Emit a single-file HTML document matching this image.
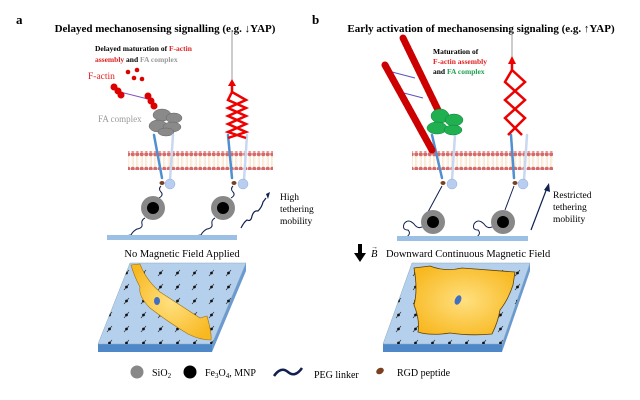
<!DOCTYPE html>
<html><head><meta charset="utf-8"><style>
html,body{margin:0;padding:0;background:#fff;}
svg{display:block;font-family:"Liberation Serif",serif;}
</style></head><body>
<svg width="640" height="400" viewBox="0 0 640 400" xmlns="http://www.w3.org/2000/svg">
<defs>
<pattern id="mem" x="0" y="0" width="4.5" height="19" patternUnits="userSpaceOnUse">
<line x1="1.6" y1="4" x2="1.6" y2="15" stroke="#f4d4a8" stroke-width="0.5"/>
<line x1="2.9" y1="4" x2="2.9" y2="15" stroke="#f4d4a8" stroke-width="0.5"/>
<circle cx="2.25" cy="2.3" r="2" fill="#d46a6a"/>
<circle cx="2.25" cy="16.7" r="2" fill="#d46a6a"/>
</pattern>
<pattern id="dots" x="0" y="0" width="17" height="14" patternUnits="userSpaceOnUse">
<line x1="5" y1="10" x2="10" y2="4" stroke="#333" stroke-width="0.7"/><circle cx="7.5" cy="7" r="1.4" fill="#111"/>
</pattern>
<radialGradient id="cell" cx="0.5" cy="0.5" r="0.6"><stop offset="0" stop-color="#ffe080"/><stop offset="1" stop-color="#f8b820"/></radialGradient>
</defs>

<!-- Panel a -->
<text x="16" y="24" font-size="13" font-weight="bold">a</text>
<text x="165" y="32" font-size="11" font-weight="bold" text-anchor="middle">Delayed mechanosensing signalling (e.g. ↓YAP)</text>
<text x="95" y="51" font-size="7.5" font-weight="bold">Delayed maturation of <tspan fill="#e02020">F-actin</tspan></text>
<text x="95" y="62" font-size="7.5" font-weight="bold"><tspan fill="#e02020">assembly</tspan> and <tspan fill="#999">FA complex</tspan></text>
<text x="88" y="79" font-size="9.5" fill="#e02020">F-actin</text>
<circle cx="128" cy="72" r="2.3" fill="#d00"/><circle cx="137" cy="70" r="2.3" fill="#d00"/>
<circle cx="134" cy="78" r="2.3" fill="#d00"/><circle cx="142" cy="79" r="2.3" fill="#d00"/>
<line x1="120" y1="92" x2="148" y2="99" stroke="#8050c0" stroke-width="1"/>
<g fill="#d00"><circle cx="114" cy="87" r="3.5"/><circle cx="118" cy="91" r="3.5"/><circle cx="121" cy="95" r="3.5"/>
<circle cx="148" cy="96" r="3.5"/><circle cx="151" cy="101" r="3.5"/><circle cx="154" cy="106" r="3.5"/></g>
<g fill="#8a8a8a" stroke="#666" stroke-width="0.5">
<ellipse cx="162" cy="115" rx="9" ry="6"/><ellipse cx="174" cy="118" rx="8" ry="5"/><ellipse cx="158" cy="126" rx="9" ry="6"/><ellipse cx="172" cy="127" rx="9" ry="5"/><ellipse cx="166" cy="132" rx="8" ry="4"/></g>
<text x="98" y="122" font-size="9" fill="#999">FA complex</text>
<rect x="128" y="151" width="145" height="19" fill="url(#mem)"/>
<rect x="412" y="151" width="141" height="19" fill="url(#mem)"/>
<!-- integrins -->
<g stroke-linecap="round">
<line x1="154" y1="135" x2="162" y2="178" stroke="#5090d0" stroke-width="2.5"/>
<line x1="173" y1="135" x2="170" y2="180" stroke="#c8d8f0" stroke-width="2.5"/>
<line x1="228" y1="135" x2="232" y2="178" stroke="#5090d0" stroke-width="2.5"/>
<line x1="247" y1="135" x2="244" y2="180" stroke="#c8d8f0" stroke-width="2.5"/>
<line x1="432" y1="135" x2="442" y2="178" stroke="#5090d0" stroke-width="2.5"/>
<line x1="455" y1="135" x2="452" y2="180" stroke="#c8d8f0" stroke-width="2.5"/>
<line x1="511" y1="135" x2="514" y2="178" stroke="#5090d0" stroke-width="2.5"/>
<line x1="527" y1="135" x2="524" y2="180" stroke="#c8d8f0" stroke-width="2.5"/>
</g>
<g fill="#b8cdf0" stroke="#90a8d8" stroke-width="0.5">
<circle cx="170" cy="184" r="5"/><circle cx="243" cy="184" r="5"/><circle cx="452" cy="184" r="5"/><circle cx="523" cy="184" r="5"/></g>
<g fill="#7a4020"><ellipse cx="162" cy="183" rx="2.5" ry="2"/><ellipse cx="234" cy="183" rx="2.5" ry="2"/><ellipse cx="443" cy="183" rx="2.5" ry="2"/><ellipse cx="515" cy="183" rx="2.5" ry="2"/></g>
<g fill="none" stroke="#102050" stroke-width="1">
<path d="M161 186 q-3 3 0 6 q3 3 -2 6"/>
<path d="M233 186 q-3 3 0 6 q3 3 -2 6"/>
<path d="M145 218 q-4 2 -3 6 q1 4 -5 5 q-4 2 -6 6 q-3 0 -6 2"/>
<path d="M215 218 q-4 2 -3 6 q1 4 -5 5 q-4 2 -6 6 q-3 0 -6 2"/>
</g>
<g><circle cx="153" cy="208" r="12" fill="#888"/><circle cx="153" cy="208" r="6" fill="#000"/>
<circle cx="223" cy="208" r="12" fill="#888"/><circle cx="223" cy="208" r="6" fill="#000"/></g>
<rect x="107" y="235" width="130" height="5" fill="#9cc0e4"/>
<line x1="232" y1="30" x2="232" y2="80" stroke="#999" stroke-width="1"/>
<polygon points="228,86 232,79 236,86" fill="#e00"/>
<polyline points="232,86 232,92 246,100 228,108 246,116 228,124 246,132 228,138" fill="none" stroke="#e00" stroke-width="2.5"/>
<polyline points="232,92 228,100 246,108 228,116 246,124 228,132 246,138" fill="none" stroke="#e00" stroke-width="2.5"/>
<path d="M241 228 q3 -6 6 -8 q4 2 5 -4 q2 -6 6 -5 q4 -4 5 -9 l3 -4" fill="none" stroke="#102050" stroke-width="1.2"/>
<polygon points="266,194 270,192 268,199" fill="#102050"/>
<text x="280" y="200" font-size="9.5">High</text>
<text x="280" y="212" font-size="9.5">tethering</text>
<text x="280" y="224" font-size="9.5">mobility</text>
<text x="182" y="257" font-size="10.5" text-anchor="middle">No Magnetic Field Applied</text>
<polygon points="98,344 212,344 212,352 98,352" fill="#4f88c8"/>
<polygon points="212,344 246,263 246,271 212,352" fill="#6a9ad0"/>
<polygon points="130,263 246,263 212,344 98,344" fill="#b5d0ec" stroke="#8ab" stroke-width="0.5"/>
<polygon points="130,263 246,263 212,344 98,344" fill="url(#dots)"/>
<path d="M131 265 L140 264 Q146 280 160 292 Q180 305 200 318 L207 316 Q212 334 211 340 Q200 340 188 334 Q168 322 150 308 Q138 296 140 287 Q134 276 131 265 Z" fill="url(#cell)" stroke="#a07010" stroke-width="0.6"/>
<ellipse cx="157" cy="301" rx="3" ry="4" fill="#4070c0"/>

<!-- Panel b -->
<text x="312" y="24" font-size="13" font-weight="bold">b</text>
<text x="481" y="32" font-size="11" font-weight="bold" text-anchor="middle">Early activation of mechanosensing signaling (e.g. ↑YAP)</text>
<text x="433" y="54" font-size="7.5" font-weight="bold">Maturation of</text>
<text x="433" y="64" font-size="7.5" font-weight="bold" fill="#e02020">F-actin assembly</text>
<text x="433" y="74" font-size="7.5" font-weight="bold">and <tspan fill="#20a050">FA complex</tspan></text>
<line x1="392" y1="72" x2="415" y2="78" stroke="#6050c0" stroke-width="1"/>
<line x1="400" y1="92" x2="423" y2="98" stroke="#6050c0" stroke-width="1"/>
<line x1="403" y1="38" x2="438" y2="110" stroke="#c00" stroke-width="7" stroke-dasharray="3.5 1.2" stroke-linecap="round"/>
<line x1="385" y1="65" x2="432" y2="150" stroke="#c00" stroke-width="7" stroke-dasharray="3.5 1.2" stroke-linecap="round"/>
<g fill="#20b050" stroke="#108040" stroke-width="0.5">
<ellipse cx="440" cy="116" rx="9" ry="7"/><ellipse cx="454" cy="120" rx="9" ry="6"/><ellipse cx="437" cy="128" rx="10" ry="6"/><ellipse cx="453" cy="130" rx="9" ry="5"/></g>
<line x1="512" y1="30" x2="512" y2="58" stroke="#999" stroke-width="1"/>
<polygon points="508,64 512,56 516,64" fill="#e00"/>
<polyline points="512,64 512,70 525,82 505,100 525,118 508,135" fill="none" stroke="#e00" stroke-width="2.5"/>
<polyline points="512,70 505,82 525,100 505,118 522,135" fill="none" stroke="#e00" stroke-width="2.5"/>
<g fill="none" stroke="#102050" stroke-width="1">
<path d="M442 186 L428 212"/><path d="M514 186 L505 210"/>
<path d="M424 226 q-6 4 -10 -2 q-6 -6 -10 0 q-2 6 4 6 q4 4 -3 8"/>
<path d="M494 226 q-6 4 -10 -2 q-6 -6 -10 0 q-2 6 4 6 q4 4 -3 8"/>
</g>
<g><circle cx="433" cy="222" r="12" fill="#888"/><circle cx="433" cy="222" r="6" fill="#000"/>
<circle cx="503" cy="222" r="12" fill="#888"/><circle cx="503" cy="222" r="6" fill="#000"/></g>
<rect x="397" y="236" width="131" height="5" fill="#9cc0e4"/>
<line x1="531" y1="230" x2="547" y2="188" stroke="#102050" stroke-width="1.2"/>
<polygon points="544,190 549,183 550,192" fill="#102050"/>
<text x="553" y="198" font-size="9.5">Restricted</text>
<text x="553" y="210" font-size="9.5">tethering</text>
<text x="553" y="222" font-size="9.5">mobility</text>
<rect x="358" y="244" width="4" height="10" fill="#000"/>
<polygon points="354,253 366,253 360,262" fill="#000"/>
<text x="371" y="257" font-size="10.5" font-style="italic">B</text>
<text x="371" y="249" font-size="7">→</text>
<text x="386" y="257" font-size="10.5">Downward Continuous Magnetic Field</text>
<polygon points="383,344 502,344 502,352 383,352" fill="#4f88c8"/>
<polygon points="502,344 530,263 530,271 502,352" fill="#6a9ad0"/>
<polygon points="412,263 530,263 502,344 383,344" fill="#b5d0ec" stroke="#8ab" stroke-width="0.5"/>
<polygon points="412,263 530,263 502,344 383,344" fill="url(#dots)"/>
<path d="M414 268 L430 266 Q445 272 462 268 Q490 270 515 272 L513 285 Q508 300 500 310 Q498 322 492 334 Q470 336 450 333 Q430 336 418 332 Q420 320 414 305 Q418 290 414 268 Z" fill="url(#cell)" stroke="#604000" stroke-width="0.8"/>
<ellipse cx="458" cy="300" rx="3" ry="5" fill="#4070c0" transform="rotate(25 458 300)"/>

<!-- Legend -->
<circle cx="137" cy="372" r="6.5" fill="#888"/>
<text x="152" y="376" font-size="10">SiO<tspan font-size="7" dy="2">2</tspan></text>
<circle cx="190" cy="372" r="6.5" fill="#000"/>
<text x="205" y="376" font-size="10">Fe<tspan font-size="7" dy="2">3</tspan><tspan dy="-2">O</tspan><tspan font-size="7" dy="2">4</tspan><tspan dy="-2">, MNP</tspan></text>
<path d="M274 376 q7 -10 14 -4 q7 6 14 -4" fill="none" stroke="#102050" stroke-width="2.5"/>
<text x="314" y="378" font-size="10">PEG linker</text>
<ellipse cx="380" cy="371" rx="4" ry="3" fill="#7a4020" transform="rotate(-30 380 371)"/>
<text x="397" y="376" font-size="10">RGD peptide</text>
</svg>
</body></html>
